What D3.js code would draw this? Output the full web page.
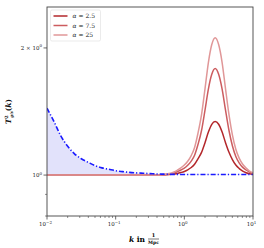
<!DOCTYPE html>
<html>
<head>
<meta charset="utf-8">
<script src="https://cdn.jsdelivr.net/npm/d3@7"></script>
<style>
  body { margin: 0; background: #fff; }
  svg { display: block; font-family: "DejaVu Serif", "Liberation Serif", serif; }
</style>
</head>
<body>
<svg id="chart"></svg>
<script>
// data
var kBlue = [0.01, 0.0126, 0.0158, 0.02, 0.0251, 0.0316, 0.0398, 0.05, 0.0631, 0.0794,
  0.1, 0.126, 0.158, 0.2, 0.251, 0.316, 0.398, 0.5, 0.631, 0.794, 1, 2, 5, 10];
var tBlue = [1.44, 1.34, 1.24, 1.17, 1.123, 1.093, 1.072, 1.053, 1.040, 1.032,
  1.024, 1.019, 1.015, 1.012, 1.010, 1.008, 1.006, 1.005, 1.004, 1.004, 1.003, 1.003, 1.003, 1.003];

var kRed = [0.01, 0.1, 0.3, 0.45, 0.56, 0.71, 0.79, 0.89, 1.0, 1.12, 1.26, 1.41, 1.58, 1.78,
  2.0, 2.24, 2.51, 2.81, 3.16, 3.55, 3.98, 4.47, 5.01, 5.62, 6.31, 7.08, 7.94, 8.91, 10];
var tAlpha25 = [1, 1, 1, 1.001, 1.006, 1.017, 1.027, 1.040, 1.056, 1.078, 1.112, 1.162, 1.256, 1.39,
  1.60, 1.847, 2.037, 2.115, 2.037, 1.847, 1.60, 1.39, 1.245, 1.151, 1.095, 1.061, 1.039, 1.022, 1.013];
var tAlpha75 = [1, 1, 1, 1.001, 1.004, 1.012, 1.019, 1.028, 1.039, 1.055, 1.079, 1.114, 1.181, 1.275,
  1.425, 1.598, 1.732, 1.787, 1.732, 1.598, 1.425, 1.275, 1.173, 1.106, 1.067, 1.043, 1.028, 1.016, 1.009];
var tAlpha2 = [1, 1, 1, 1.0, 1.002, 1.006, 1.009, 1.014, 1.02, 1.029, 1.042, 1.061, 1.092, 1.132,
  1.193, 1.264, 1.319, 1.339, 1.319, 1.264, 1.193, 1.132, 1.088, 1.056, 1.036, 1.022, 1.013, 1.007, 1.004];

var legendLabels = ["2.5", "7.5", "25"];
var xTicks = [0.01, 0.1, 1, 10];
var xTickExp = ["\u22122", "\u22121", "0", "1"];

var W = 264, H = 248;
var margin = { top: 7, right: 11, bottom: 32, left: 47 };
var width = W - margin.left - margin.right;
var height = H - margin.top - margin.bottom;

var svg = d3.select("svg#chart").attr("width", W).attr("height", H);
var g = svg.append("g")
  .attr("transform", "translate(" + margin.left + "," + margin.top + ")");

var x = d3.scaleLog().domain([0.01, 10]).range([0, width]);
var y = d3.scaleLog().domain([0.8, 2.5]).range([height, 0]);

// clip
g.append("clipPath").attr("id", "clip")
  .append("rect").attr("width", width).attr("height", height);
var plot = g.append("g").attr("clip-path", "url(#clip)");

var blueData = kBlue.map(function (k, i) { return { k: k, t: tBlue[i] }; });

// shaded area between blue curve and 1
plot.append("path")
  .datum(blueData)
  .attr("fill", "#e2e2fb")
  .attr("d", d3.area()
    .x(function (d) { return x(d.k); })
    .y0(y(1))
    .y1(function (d) { return y(d.t); })
    .curve(d3.curveMonotoneX));

var line = d3.line()
  .x(function (d) { return x(d.k); })
  .y(function (d) { return y(d.t); })
  .curve(d3.curveMonotoneX);

var redSeries = [
  { vals: tAlpha2, color: "#b3272b" },
  { vals: tAlpha75, color: "#cc5c5f" },
  { vals: tAlpha25, color: "#e09798" }
];

redSeries.forEach(function (s) {
  plot.append("path")
    .datum(kRed.map(function (k, i) { return { k: k, t: s.vals[i] }; }))
    .attr("fill", "none")
    .attr("stroke", s.color)
    .attr("stroke-width", 1.5)
    .attr("d", line);
});

plot.append("path")
  .datum(blueData)
  .attr("fill", "none")
  .attr("stroke", "#1a1aff")
  .attr("stroke-width", 1.6)
  .attr("stroke-dasharray", "5,2,1.2,2")
  .attr("d", line);

// axes
var axisColor = "#444";
var xMinor = [];
[0.01, 0.1, 1].forEach(function (dec) {
  for (var m = 2; m <= 9; m++) xMinor.push(dec * m);
});
g.selectAll(".xminor").data(xMinor).enter().append("line")
  .attr("x1", function (d) { return x(d); }).attr("x2", function (d) { return x(d); })
  .attr("y1", height).attr("y2", height + 2)
  .attr("stroke", axisColor).attr("stroke-width", 0.6);
g.selectAll(".xmajor").data(xTicks).enter().append("line")
  .attr("x1", function (d) { return x(d); }).attr("x2", function (d) { return x(d); })
  .attr("y1", height).attr("y2", height + 3.5)
  .attr("stroke", axisColor).attr("stroke-width", 0.8);

var xl = g.selectAll(".xlab").data(xTicks).enter().append("text")
  .attr("x", function (d) { return x(d) - 1.5; })
  .attr("y", height + 10)
  .attr("text-anchor", "middle")
  .attr("font-size", 5.5)
  .attr("fill", "#222");
xl.append("tspan").text("10");
xl.append("tspan").attr("dy", -2.5).attr("font-size", 4)
  .text(function (d, i) { return xTickExp[i]; });

var yMinor = [0.8, 0.9];
g.selectAll(".yminor").data(yMinor).enter().append("line")
  .attr("x1", -2).attr("x2", 0)
  .attr("y1", function (d) { return y(d); }).attr("y2", function (d) { return y(d); })
  .attr("stroke", axisColor).attr("stroke-width", 0.6);
g.selectAll(".ymajor").data([1, 2]).enter().append("line")
  .attr("x1", -3.5).attr("x2", 0)
  .attr("y1", function (d) { return y(d); }).attr("y2", function (d) { return y(d); })
  .attr("stroke", axisColor).attr("stroke-width", 0.8);

var yl1 = g.append("text").attr("x", -5).attr("y", y(1) + 2)
  .attr("text-anchor", "end").attr("font-size", 5.5).attr("fill", "#222");
yl1.append("tspan").text("10");
yl1.append("tspan").attr("dy", -2.5).attr("font-size", 4).text("0");
var yl2 = g.append("text").attr("x", -5).attr("y", y(2) + 2)
  .attr("text-anchor", "end").attr("font-size", 5.5).attr("fill", "#222");
yl2.append("tspan").text("2 \u00d7 10");
yl2.append("tspan").attr("dy", -2.5).attr("font-size", 4).text("0");

// frame
g.append("rect").attr("width", width).attr("height", height)
  .attr("fill", "none").attr("stroke", axisColor).attr("stroke-width", 0.9);

// legend
var leg = g.append("g").attr("transform", "translate(3.5,3)");
leg.append("rect").attr("width", 50).attr("height", 31).attr("rx", 1.5)
  .attr("fill", "#fff").attr("fill-opacity", 0.8)
  .attr("stroke", "#ddd").attr("stroke-width", 0.6);
redSeries.forEach(function (s, i) {
  var yy = 6 + i * 9.5;
  leg.append("line").attr("x1", 3).attr("x2", 17).attr("y1", yy).attr("y2", yy)
    .attr("stroke", s.color).attr("stroke-width", 1.5);
  var t = leg.append("text").attr("x", 22).attr("y", yy + 2)
    .attr("font-size", 6).attr("fill", "#222");
  t.append("tspan").attr("font-style", "italic").text("\u03b1");
  t.append("tspan").text(" = " + legendLabels[i]);
});

// x label
var xlab = svg.append("g");
xlab.append("text").attr("x", 145).attr("y", 242)
  .attr("text-anchor", "end").attr("font-size", 7.5).attr("font-weight", "bold")
  .html("<tspan font-style='italic'>k</tspan> in");
xlab.append("text").attr("x", 153.5).attr("y", 237)
  .attr("text-anchor", "middle").attr("font-size", 5).attr("font-weight", "bold").text("1");
xlab.append("line").attr("x1", 148).attr("x2", 159).attr("y1", 239).attr("y2", 239)
  .attr("stroke", "#222").attr("stroke-width", 0.6);
xlab.append("text").attr("x", 153.5).attr("y", 244)
  .attr("text-anchor", "middle").attr("font-size", 4.5).attr("font-weight", "bold").text("Mpc");

// y label
var ylab = svg.append("text")
  .attr("transform", "translate(11," + (margin.top + height / 2) + ") rotate(-90)")
  .attr("text-anchor", "middle").attr("font-size", 7.5).attr("font-weight", "bold").attr("fill", "#111");
ylab.append("tspan").attr("font-style", "italic").text("T");
ylab.append("tspan").attr("dy", -3).attr("font-size", 4.5).text("2");
ylab.append("tspan").attr("dx", -2.5).attr("dy", 5).attr("font-size", 4).attr("font-style", "italic").text("g/s");
ylab.append("tspan").attr("dy", -2).text("(");
ylab.append("tspan").attr("font-style", "italic").text("k");
ylab.append("tspan").text(")");
</script>
</body>
</html>
